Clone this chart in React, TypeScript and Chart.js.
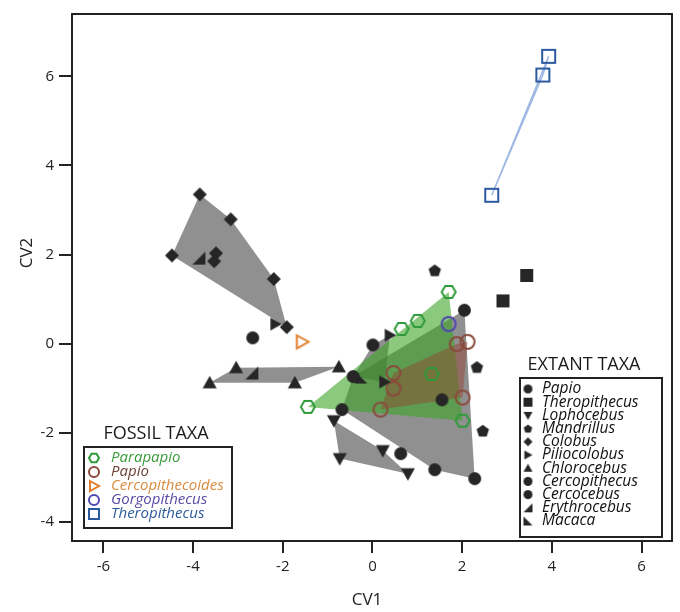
import React, { useEffect, useRef } from "react";
import { Chart, registerables } from "chart.js";

Chart.register(...registerables);

type Pt = { x: number; y: number };

const X_TICKS = [-6, -4, -2, 0, 2, 4, 6];
const Y_TICKS = [-4, -2, 0, 2, 4, 6];
const X_TITLE = "CV1";
const Y_TITLE = "CV2";

// ---------- Fossil taxa ----------
const fossilParapapio: Pt[] = [
  { x: 1.7, y: 1.16 }, { x: 1.01, y: 0.51 }, { x: 0.65, y: 0.33 },
  { x: 1.32, y: -0.68 }, { x: -1.44, y: -1.42 }, { x: 2.01, y: -1.73 },
];
const fossilPapio: Pt[] = [
  { x: 1.88, y: -0.01 }, { x: 2.12, y: 0.04 }, { x: 0.47, y: -0.66 },
  { x: 0.47, y: -1.01 }, { x: 2.01, y: -1.21 }, { x: 0.18, y: -1.48 },
];
const fossilCercopithecoides: Pt[] = [{ x: -1.57, y: 0.04 }];
const fossilGorgopithecus: Pt[] = [{ x: 1.7, y: 0.44 }];
const fossilTheropithecus: Pt[] = [{ x: 3.93, y: 6.45 }, { x: 3.8, y: 6.03 }, { x: 2.66, y: 3.33 }];

// ---------- Extant taxa ----------
const extantPapio: Pt[] = [
  { x: 2.05, y: 0.75 }, { x: 1.55, y: -1.26 }, { x: -0.68, y: -1.48 },
  { x: 1.39, y: -2.83 }, { x: 2.28, y: -3.03 }, { x: -0.43, y: -0.74 },
];
const extantTheropithecus: Pt[] = [{ x: 2.91, y: 0.96 }, { x: 3.44, y: 1.53 }];
const extantLophocebus: Pt[] = [
  { x: -0.86, y: -1.73 }, { x: 0.23, y: -2.4 }, { x: -0.73, y: -2.58 }, { x: 0.79, y: -2.92 },
];
const extantMandrillus: Pt[] = [{ x: 1.39, y: 1.65 }, { x: 2.33, y: -0.52 }, { x: 2.46, y: -1.95 }];
const extantColobus: Pt[] = [
  { x: -3.85, y: 3.35 }, { x: -3.16, y: 2.79 }, { x: -4.47, y: 1.98 }, { x: -3.49, y: 2.03 },
  { x: -3.53, y: 1.85 }, { x: -2.2, y: 1.45 }, { x: -1.91, y: 0.37 },
];
const extantPiliocolobus: Pt[] = [{ x: -2.16, y: 0.44 }, { x: 0.39, y: 0.19 }, { x: 0.27, y: -0.86 }];
const extantChlorocebus: Pt[] = [
  { x: -3.63, y: -0.88 }, { x: -3.04, y: -0.54 }, { x: -1.73, y: -0.88 }, { x: -0.75, y: -0.52 },
];
const extantCercopithecus: Pt[] = [{ x: 0.01, y: -0.03 }, { x: -2.67, y: 0.13 }];
const extantCercocebus: Pt[] = [{ x: 0.63, y: -2.47 }];
const extantErythrocebus: Pt[] = [{ x: -3.87, y: 1.92 }, { x: -2.69, y: -0.66 }];
const extantMacaca: Pt[] = [{ x: -0.25, y: -0.76 }];

// ---------- Hull polygons (vertices) ----------
const hullColobus: Pt[] = [
  { x: -3.85, y: 3.35 }, { x: -3.16, y: 2.79 }, { x: -2.2, y: 1.45 }, { x: -1.91, y: 0.37 }, { x: -4.47, y: 1.98 },
];
const hullChlorocebus: Pt[] = [
  { x: -3.63, y: -0.88 }, { x: -3.04, y: -0.54 }, { x: -0.75, y: -0.52 }, { x: -1.73, y: -0.88 },
];
const hullLophocebus: Pt[] = [
  { x: -0.86, y: -1.73 }, { x: 0.23, y: -2.4 }, { x: 0.79, y: -2.92 }, { x: -0.73, y: -2.58 },
];
const hullPapio: Pt[] = [
  { x: -0.43, y: -0.74 }, { x: 2.05, y: 0.75 }, { x: 2.28, y: -3.03 }, { x: 1.39, y: -2.83 }, { x: -0.68, y: -1.48 },
];
const hullPiliocolobus: Pt[] = [
  { x: 0.39, y: 0.19 }, { x: 0.01, y: -0.03 }, { x: -0.43, y: -0.74 }, { x: 0.27, y: -0.86 },
];
const hullFossilParapapio: Pt[] = [{ x: -1.44, y: -1.42 }, { x: 1.7, y: 1.16 }, { x: 2.01, y: -1.73 }];
const hullFossilPapio: Pt[] = [
  { x: 0.18, y: -1.48 }, { x: 0.47, y: -0.66 }, { x: 1.88, y: -0.01 }, { x: 2.12, y: 0.04 }, { x: 2.01, y: -1.21 },
];
const hullFossilTheropithecus: Pt[] = [{ x: 2.66, y: 3.33 }, { x: 3.93, y: 6.45 }, { x: 3.8, y: 6.03 }];

// ---------- Legends ----------
const FOSSIL_TITLE = "FOSSIL TAXA";
const EXTANT_TITLE = "EXTANT TAXA";
const FOSSIL_NAMES = ["Parapapio", "Papio", "Cercopithecoides", "Gorgopithecus", "Theropithecus"];
const FOSSIL_SHAPES = ["hexagon", "circle", "triRight", "circle", "square"];
const FOSSIL_MARKER_COLORS = ["#2f9a3a", "#8a4a3c", "#e07d2c", "#5247b0", "#2c5aa0"];
const FOSSIL_TEXT_COLORS = ["#3b9a3c", "#6e4236", "#d98b3e", "#5a4aa6", "#2d5a9c"];
const EXTANT_NAMES = [
  "Papio", "Theropithecus", "Lophocebus", "Mandrillus", "Colobus", "Piliocolobus",
  "Chlorocebus", "Cercopithecus", "Cercocebus", "Erythrocebus", "Macaca",
];
const EXTANT_SHAPES = [
  "circle", "square", "triDown", "pentagon", "diamond", "triRight",
  "triUp", "circle", "circle", "wedgeBR", "wedgeBL",
];

const FONT = '"Open Sans", "Liberation Sans", sans-serif';
const BLACK = "#262626";

function makeMarker(shape: string, size: number, fill: string | null, stroke: string | null, lw = 2): HTMLCanvasElement {
  const pad = Math.ceil(lw) + 1;
  const dim = Math.ceil(size + pad * 2);
  const c = document.createElement("canvas");
  c.width = dim;
  c.height = dim;
  const ctx = c.getContext("2d")!;
  const cx = dim / 2;
  const cy = dim / 2;
  const r = size / 2;
  const polyPath = (pts: [number, number][]) => {
    ctx.moveTo(pts[0][0], pts[0][1]);
    for (let i = 1; i < pts.length; i++) ctx.lineTo(pts[i][0], pts[i][1]);
    ctx.closePath();
  };
  ctx.beginPath();
  switch (shape) {
    case "circle":
      ctx.arc(cx, cy, r, 0, Math.PI * 2);
      break;
    case "square":
      ctx.rect(cx - r, cy - r, size, size);
      break;
    case "diamond":
      polyPath([[cx, cy - r], [cx + r, cy], [cx, cy + r], [cx - r, cy]]);
      break;
    case "triUp":
      polyPath([[cx, cy - r], [cx + r, cy + r * 0.8], [cx - r, cy + r * 0.8]]);
      break;
    case "triDown":
      polyPath([[cx - r, cy - r * 0.8], [cx + r, cy - r * 0.8], [cx, cy + r]]);
      break;
    case "triRight":
      polyPath([[cx - r * 0.8, cy - r], [cx + r, cy], [cx - r * 0.8, cy + r]]);
      break;
    case "wedgeBR":
      polyPath([[cx + r, cy - r], [cx + r, cy + r], [cx - r, cy + r]]);
      break;
    case "wedgeBL":
      polyPath([[cx - r, cy - r], [cx + r, cy + r], [cx - r, cy + r]]);
      break;
    case "pentagon": {
      const pts: [number, number][] = [];
      for (let i = 0; i < 5; i++) {
        const a = -Math.PI / 2 + (i * 2 * Math.PI) / 5;
        pts.push([cx + r * Math.cos(a), cy + r * Math.sin(a) + r * 0.1]);
      }
      polyPath(pts);
      break;
    }
    case "hexagon": {
      const pts: [number, number][] = [];
      for (let i = 0; i < 6; i++) {
        const a = (i * Math.PI) / 3;
        pts.push([cx + r * Math.cos(a), cy + r * Math.sin(a)]);
      }
      polyPath(pts);
      break;
    }
  }
  if (fill) {
    ctx.fillStyle = fill;
    ctx.fill();
  }
  if (stroke) {
    ctx.strokeStyle = stroke;
    ctx.lineWidth = lw;
    ctx.stroke();
  }
  return c;
}

export default function App() {
  const ref = useRef<HTMLCanvasElement>(null);

  useEffect(() => {
    const canvas = ref.current;
    if (!canvas) return;

    const black = (shape: string, size: number) => makeMarker(shape, size, BLACK, null);
    const open = (shape: string, size: number, color: string) => makeMarker(shape, size, null, color, 2);

    const GRAY = "rgba(70,70,70,0.6)";
    const GREEN = "rgba(60,165,40,0.6)";
    const BROWN = "rgba(150,60,40,0.42)";

    const poly = (pts: Pt[], color: string, order: number) => ({
      type: "line" as const,
      data: [...pts, pts[0]],
      fill: "shape",
      backgroundColor: color,
      borderColor: "rgba(0,0,0,0)",
      borderWidth: 0,
      pointRadius: 0,
      tension: 0,
      order,
    });
    const marks = (data: Pt[], img: HTMLCanvasElement, order = 0) => ({
      type: "scatter" as const,
      data,
      pointStyle: img,
      pointRadius: 7,
      pointHoverRadius: 7,
      showLine: false,
      order,
    });

    const datasets: any[] = [
      poly(hullColobus, GRAY, 10),
      poly(hullChlorocebus, GRAY, 10),
      poly(hullLophocebus, GRAY, 10),
      poly(hullPapio, GRAY, 10),
      poly(hullPiliocolobus, GRAY, 9),
      poly(hullFossilParapapio, GREEN, 8),
      poly(hullFossilPapio, BROWN, 7),
      {
        type: "line",
        data: [...hullFossilTheropithecus, hullFossilTheropithecus[0]],
        fill: false,
        borderColor: "#9fb9e4",
        borderWidth: 1.5,
        pointRadius: 0,
        tension: 0,
        order: 6,
      },
      marks(extantPapio, black("circle", 13)),
      marks(extantTheropithecus, black("square", 13)),
      marks(extantLophocebus, black("triDown", 14)),
      marks(extantMandrillus, black("pentagon", 13)),
      marks(extantColobus, black("diamond", 14)),
      marks(extantPiliocolobus, black("triRight", 13)),
      marks(extantChlorocebus, black("triUp", 14)),
      marks(extantCercopithecus, black("circle", 13)),
      marks(extantCercocebus, black("circle", 13)),
      marks(extantErythrocebus, black("wedgeBR", 13)),
      marks(extantMacaca, black("wedgeBL", 12)),
      marks(fossilParapapio, open("hexagon", 14, FOSSIL_MARKER_COLORS[0])),
      marks(fossilPapio, open("circle", 14, FOSSIL_MARKER_COLORS[1])),
      marks(fossilCercopithecoides, open("triRight", 13, FOSSIL_MARKER_COLORS[2])),
      marks(fossilGorgopithecus, open("circle", 14, FOSSIL_MARKER_COLORS[3])),
      marks(fossilTheropithecus, open("square", 13, FOSSIL_MARKER_COLORS[4])),
    ];

    const fossilLegendMarks = FOSSIL_SHAPES.map((s, i) => open(s, 10, FOSSIL_MARKER_COLORS[i]));
    const extantLegendMarks = EXTANT_SHAPES.map((s) => black(s, 9));

    const decor = {
      id: "decor",
      afterDraw(chart: any) {
        const ctx = chart.ctx as CanvasRenderingContext2D;
        const a = chart.chartArea;
        ctx.save();
        // frame
        ctx.strokeStyle = "#222";
        ctx.lineWidth = 2;
        ctx.strokeRect(a.left, a.top, a.right - a.left, a.bottom - a.top);

        // axis titles
        ctx.fillStyle = "#222";
        ctx.font = `17px ${FONT}`;
        ctx.textAlign = "center";
        ctx.textBaseline = "middle";
        ctx.fillText(X_TITLE, 367, 600);
        ctx.save();
        ctx.translate(27, 253);
        ctx.rotate(-Math.PI / 2);
        ctx.fillText(Y_TITLE, 0, 0);
        ctx.restore();

        // fossil legend
        ctx.font = `18px ${FONT}`;
        ctx.fillStyle = "#1a1a1a";
        ctx.fillText(FOSSIL_TITLE, 156, 434);
        ctx.fillStyle = "#fff";
        ctx.fillRect(84, 447, 148, 81);
        ctx.strokeStyle = "#222";
        ctx.lineWidth = 2;
        ctx.strokeRect(84, 447, 148, 81);
        ctx.textAlign = "left";
        ctx.font = `italic 15px ${FONT}`;
        FOSSIL_NAMES.forEach((name, i) => {
          const y = 458 + i * 14;
          const img = fossilLegendMarks[i];
          ctx.drawImage(img, 94 - img.width / 2, y - img.height / 2);
          ctx.fillStyle = FOSSIL_TEXT_COLORS[i];
          ctx.fillText(name, 111, y);
        });

        // extant legend
        ctx.textAlign = "center";
        ctx.font = `18px ${FONT}`;
        ctx.fillStyle = "#1a1a1a";
        ctx.fillText(EXTANT_TITLE, 584, 365);
        ctx.fillStyle = "#fff";
        ctx.fillRect(520, 378, 142, 159);
        ctx.strokeStyle = "#222";
        ctx.lineWidth = 2;
        ctx.strokeRect(520, 378, 142, 159);
        ctx.textAlign = "left";
        ctx.font = `italic 15.5px ${FONT}`;
        EXTANT_NAMES.forEach((name, i) => {
          const y = 389 + i * 13.2;
          const img = extantLegendMarks[i];
          ctx.drawImage(img, 528 - img.width / 2, y - img.height / 2);
          ctx.fillStyle = "#111";
          ctx.fillText(name, 542, y);
        });
        ctx.restore();
      },
    };

    const chart = new Chart(canvas, {
      type: "scatter",
      data: { datasets },
      options: {
        responsive: false,
        animation: false,
        events: [],
        layout: { padding: { left: 0, right: 8, top: 12, bottom: 0 } },
        plugins: { legend: { display: false }, tooltip: { enabled: false } },
        scales: {
          x: {
            type: "linear",
            min: -6.7,
            max: 6.68,
            afterBuildTicks: (s: any) => {
              s.ticks = X_TICKS.map((v) => ({ value: v }));
            },
            afterFit: (s: any) => {
              s.height = 71;
            },
            grid: { display: true, drawOnChartArea: false, drawTicks: true, tickLength: 12, color: "#222", lineWidth: 2 },
            border: { display: true, color: "#222", width: 2 },
            ticks: { color: "#222", font: { family: FONT, size: 15 }, padding: 5, maxRotation: 0, autoSkip: false },
          },
          y: {
            type: "linear",
            min: -4.43,
            max: 7.4,
            afterBuildTicks: (s: any) => {
              s.ticks = Y_TICKS.map((v) => ({ value: v }));
            },
            afterFit: (s: any) => {
              s.width = 72;
            },
            grid: { display: true, drawOnChartArea: false, drawTicks: true, tickLength: 13, color: "#222", lineWidth: 2 },
            border: { display: true, color: "#222", width: 2 },
            ticks: { color: "#222", font: { family: FONT, size: 15 }, padding: 5, autoSkip: false },
          },
        },
      } as any,
      plugins: [decor],
    });

    return () => chart.destroy();
  }, []);

  return (
    <div style={{ position: "absolute", left: 0, top: 0, width: 680, height: 612, background: "#fff" }}>
      <canvas ref={ref} width={680} height={612} style={{ display: "block", width: 680, height: 612 }} />
    </div>
  );
}
